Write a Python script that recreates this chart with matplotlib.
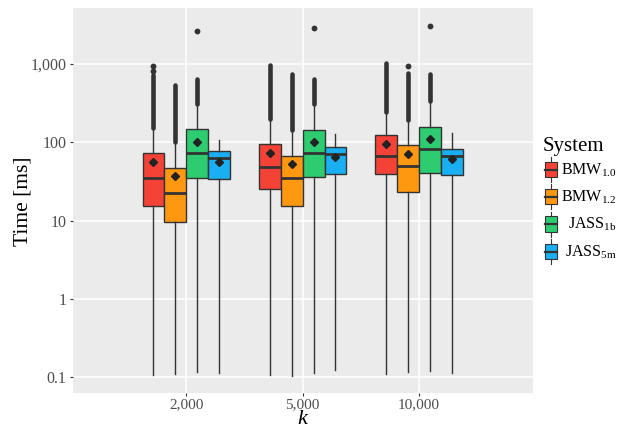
import matplotlib
matplotlib.use("Agg")
import matplotlib.pyplot as plt
from matplotlib.patches import Rectangle
from matplotlib.lines import Line2D

plt.rcParams['font.family'] = ['Liberation Serif', 'DejaVu Serif']
plt.rcParams['mathtext.fontset'] = 'custom'
plt.rcParams['mathtext.rm'] = 'Liberation Serif'
plt.rcParams['mathtext.it'] = 'Liberation Serif:italic'

# data (ms)
k_labels = ['2,000', '5,000', '10,000']
systems = [r'BMW$_{\mathrm{1.0}}$', r'BMW$_{\mathrm{1.2}}$',
           r'JASS$_{\mathrm{1b}}$', r'JASS$_{\mathrm{5m}}$']
colors = ['#F44336', '#FF9811', '#2ECC71', '#1AAFF3']

q1 = [[15.5, 25.0, 38.9], [9.5, 15.5, 23.4], [35.2, 36.0, 40.1], [33.9, 38.9, 37.8]]
med = [[34.6, 47.8, 66.7], [22.5, 34.9, 49.7], [73.5, 73.5, 81.3], [62.4, 70.8, 66.7]]
q3 = [[72.3, 94.2, 122.7], [46.5, 66.7, 91.4], [146.5, 142.0, 155.0], [77.3, 87.7, 81.3]]
means = [[55.5, 72.2, 95.0], [36.7, 52.3, 70.2], [100.7, 100.7, 111.0], [55.9, 64.3, 60.5]]
whislo = [[0.106, 0.106, 0.109], [0.108, 0.104, 0.117], [0.117, 0.113, 0.120], [0.113, 0.123, 0.113]]
whishi = [[146, 188, 234], [97, 139, 187], [299, 299, 320], [107, 126, 130]]
# dense run of outliers (top end), then isolated outliers
outlier_top = [[723, 970, 1020], [539, 739, 760], [637, 637, 745], [None, None, None]]
fliers = [[[820, 940], [], []], [[], [], [943]], [[2665], [2885], [3060]], [[], [], []]]

W, H = 631, 428
fig = plt.figure(figsize=(W / 100, H / 100), dpi=100)
ax = fig.add_axes([72.7 / W, 1 - 393.3 / H, 460 / W, 385.3 / H])
ax.set_facecolor('#EBEBEB')
for s in ax.spines.values():
    s.set_visible(False)

dark = '#333333'
bw = 0.1875
offsets = [-1.5 * bw, -0.5 * bw, 0.5 * bw, 1.5 * bw]

for i, sys_name in enumerate(systems):
    stats = []
    pos = []
    for j in range(len(k_labels)):
        stats.append(dict(med=med[i][j], q1=q1[i][j], q3=q3[i][j],
                          whislo=whislo[i][j], whishi=whishi[i][j],
                          mean=means[i][j], fliers=[]))
        pos.append(j + 1 + offsets[i])
    ax.bxp(stats, positions=pos, widths=bw, patch_artist=True, showmeans=True,
           showcaps=False, showfliers=False,
           boxprops=dict(facecolor=colors[i], edgecolor=dark, linewidth=1.0),
           medianprops=dict(color=dark, linewidth=2.0),
           whiskerprops=dict(color=dark, linewidth=1.0),
           meanprops=dict(marker='D', markerfacecolor='#222222',
                          markeredgecolor='#222222', markersize=4),
           zorder=3)
    for j in range(len(k_labels)):
        x = pos[j]
        if outlier_top[i][j] is not None:
            ax.plot([x, x], [whishi[i][j] * 1.04, outlier_top[i][j]], color=dark,
                    lw=3.3, solid_capstyle='round', zorder=4)
        if fliers[i][j]:
            ax.plot([x] * len(fliers[i][j]), fliers[i][j], 'o', color=dark,
                    markersize=4.2, markeredgewidth=0, zorder=4)

ax.set_yscale('log')
ax.set_ylim(0.0619, 5200)
ax.set_xlim(0.025, 3.975)
ax.set_yticks([0.1, 1, 10, 100, 1000])
ax.set_yticklabels(['0.1', '1', '10', '100', '1,000'])
ax.yaxis.set_minor_locator(matplotlib.ticker.NullLocator())
ax.set_xticks([1, 2, 3])
ax.set_xticklabels(k_labels)
ax.grid(True, color='white', linewidth=1.1)
ax.set_axisbelow(True)
ax.tick_params(axis='both', length=2.2, width=0.8, color=dark, pad=2.5,
               labelsize=11.5, labelcolor='#4D4D4D')
ax.tick_params(axis='x', pad=1.5, labelsize=11)

fig.text(23 / W, 1 - 201 / H, 'Time [ms]', rotation=90, ha='center', va='center',
         fontsize=15.5)
fig.text(302.7 / W, 1 - 423.5 / H, 'k', style='italic', ha='center', va='baseline',
         fontsize=16)

# legend drawn in pixel coordinates
lg = fig.add_axes([0, 0, 1, 1], facecolor='none')
lg.set_xlim(0, W)
lg.set_ylim(H, 0)
lg.axis('off')
lg.text(543, 151, 'System', fontsize=15, ha='left', va='baseline')
row_y = [169.5, 196.5, 224.0, 251.5]
label_x = [561, 561, 568, 565]
for i, sys_name in enumerate(systems):
    cy = row_y[i]
    lg.add_line(Line2D([551, 551], [cy - 12.5, cy + 12.5], color=dark, lw=0.8))
    lg.add_patch(Rectangle((545, cy - 7.8), 11.7, 15.6, facecolor=colors[i],
                           edgecolor=dark, lw=0.8, zorder=3))
    lg.add_line(Line2D([545, 556.7], [cy, cy], color=dark, lw=1.6, zorder=4))
    lg.text(label_x[i], cy + 5, sys_name, fontsize=11.5, ha='left', va='baseline')

fig.savefig('out.png', dpi=100)
